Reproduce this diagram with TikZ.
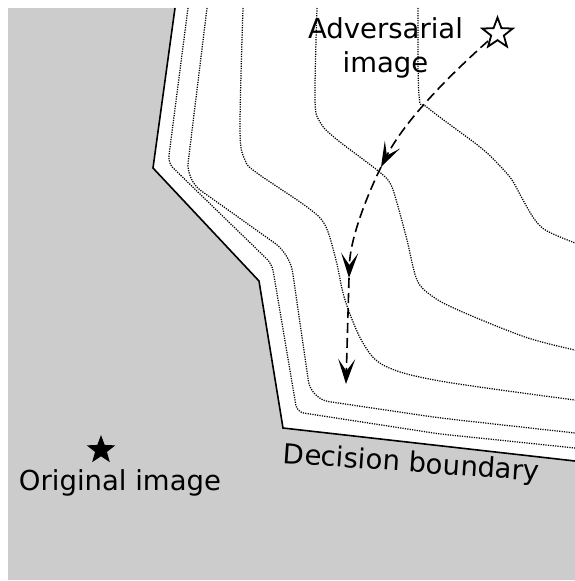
\documentclass[tikz,border=0pt]{standalone}
\usepackage{fontspec}
\setmainfont{DejaVu Sans}
\usetikzlibrary{shapes.geometric,arrows.meta}
\definecolor{graybg}{RGB}{204,204,204}
\begin{document}
\begin{tikzpicture}[x=1pt,y=-1pt,
  contour/.style={line width=1.25pt, dash pattern=on 1.2pt off 1.2pt},
  bound/.style={line width=1.6pt, line join=miter},
  advarrow/.style={line width=1.6pt, dash pattern=on 10pt off 5pt,
    -{Stealth[length=25pt,width=17pt,inset=12pt,fill=black]}},
  lbl/.style={font=\fontsize{27.5}{33}\selectfont, inner sep=0pt},
  starmark/.style={star, star points=5, star point ratio=2.4, inner sep=0pt}
]
\useasboundingbox (0,0) rectangle (575,581);
% class region
\fill[graybg] (8,8) -- (175,8) -- (153,168) -- (259,281) -- (283,428) -- (575,461) -- (575,580) -- (8,580) -- cycle;
% level contours
\draw[contour, rounded corners=7pt] (188,8) -- (168,163) -- (272,264) -- (297,412) -- (440,434) -- (575,448);
\draw[contour, rounded corners=18pt] (207,8) -- (186,180) -- (290,254) -- (311,399) -- (440,418) -- (575,433);
\draw[contour] plot[smooth, tension=0.55] coordinates {(243,8) (240,130) (245,160) (257,173) (307,207) (325,225) (336,260) (345,300) (363,343) (385,366) (440,381) (575,400)};
\draw[contour] plot[smooth, tension=0.55] coordinates {(317,8) (315,100) (320,122) (335,138) (377,170) (390,183) (397,203) (407,240) (417,280) (432,296) (458,310) (525,337) (575,350)};
\draw[contour] plot[smooth, tension=0.55] coordinates {(418,8) (419,95) (428,108) (480,147) (500,166) (512,180) (523,200) (535,220) (547,231) (575,243)};
% decision boundary
\draw[bound] (175,8) -- (153,168) -- (259,281) -- (283,428) -- (575,461);
% stars
\node[starmark, draw, line width=1.8pt, fill=white, minimum size=32pt] (adv) at (497.5,33.5) {};
\node[starmark, fill=black, minimum size=30pt] (origstar) at (101,450) {};
% attack path
\coordinate (p0) at (488,41);
\coordinate (p1) at (381,167);
\coordinate (p2) at (349,278);
\coordinate (p3) at (346,384);
\draw[advarrow] (p0) .. controls (450,75) and (405,120) .. (p1);
\draw[advarrow] (p1) .. controls (365,200) and (350,240) .. (p2);
\draw[advarrow] (p2) -- (p3);
% labels
\node[lbl, anchor=base] (advA) at (385.5,38) {Adversarial};
\node[lbl, anchor=base] (advB) at (385.5,72) {image};
\node[lbl, anchor=base] (orig) at (120,490) {Original image};
\node[lbl, anchor=base, rotate=-4] (dec) at (411,472) {Decision boundary};
\end{tikzpicture}
\end{document}
